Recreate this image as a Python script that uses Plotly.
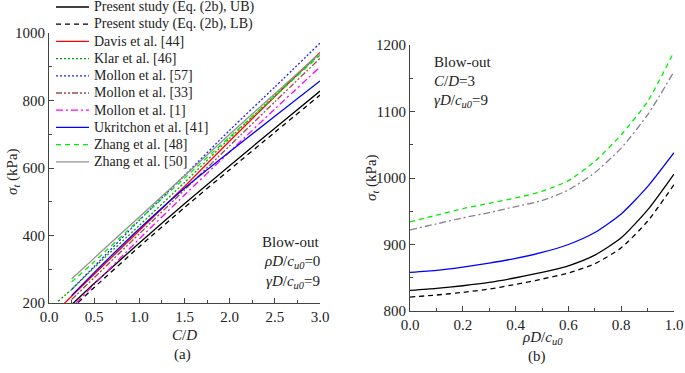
import plotly.graph_objects as go

# ---------------- Panel (a): sigma_t vs C/D ----------------
cd = [0.25, 0.5, 1.0, 1.5, 2.0, 2.5, 3.0]
ub_a = [195, 258, 378, 494, 607, 718, 828]
lb_a = [183, 246, 367, 483, 595, 706, 816]
cd_davis = [0.1, 0.25, 0.5, 1.0, 1.5, 2.0, 2.5, 3.0]
davis = [180, 220, 285, 415, 545, 680, 812, 942]
cd_klar = [0.1, 0.25, 0.5, 1.0, 1.5, 2.0, 2.5, 3.0]
klar = [205, 240, 305, 430, 557, 688, 815, 938]
mollon57 = [240, 308, 445, 578, 712, 840, 970]
mollon33 = [210, 275, 405, 535, 666, 796, 925]
cd_mollon1 = [0.3, 0.5, 1.0, 1.5, 2.0, 2.5, 3.0]
mollon1 = [200, 255, 390, 520, 648, 775, 899]
ukritchon_a = [222, 290, 420, 540, 648, 753, 858]
zhang48_a = [262, 322, 447, 570, 692, 813, 934]
zhang50 = [271, 333, 455, 577, 700, 820, 940]

# ---------------- Panel (b): sigma_t vs rhoD/cu0 ----------------
rho = [0.0, 0.1, 0.2, 0.3, 0.4, 0.5, 0.6, 0.7, 0.8, 0.9, 1.0]
zhang48_b = [934, 944, 954, 962, 970, 980, 996, 1025, 1065, 1115, 1190]
mollon33_b = [922, 931, 940, 948, 957, 966, 982, 1008, 1045, 1095, 1160]
ukritchon_b = [858, 861, 866, 872, 879, 888, 900, 918, 946, 987, 1038]
ub_b = [831, 834, 838, 843, 850, 858, 868, 884, 910, 952, 1006]
lb_b = [821, 824, 828, 833, 840, 848, 857, 871, 895, 935, 990]

FONT = "'Liberation Serif', 'Times New Roman', Times, serif"
TXT = "#222222"
W, H = 685, 373
def fx(px): return px / W
def fy(py): return 1 - py / H

fig = go.Figure()
legend_items = []

def add(x, y, name, color, dash, axis, show=True, width=1.3):
    fig.add_trace(go.Scatter(
        x=x, y=y, name=name, mode="lines", showlegend=False,
        line=dict(color=color, dash=dash, width=width, shape="spline", smoothing=0.6),
        xaxis="x" if axis == 1 else "x2", yaxis="y" if axis == 1 else "y2",
        cliponaxis=True))
    if show:
        legend_items.append((name, color, dash, width))

add(cd, ub_a, "Present study (Eq. (2b), UB)", "#000000", "solid", 1)
add(cd, lb_a, "Present study (Eq. (2b), LB)", "#000000", "5px,4px", 1)
add(cd_davis, davis, "Davis et al. [44]", "#ff0000", "solid", 1)
add(cd_klar, klar, "Klar et al. [46]", "#00a000", "2px,2px", 1)
add(cd, mollon57, "Mollon et al. [57]", "#2020ff", "2px,2px", 1)
add(cd, mollon33, "Mollon et al. [33]", "#a04848", "6px,2px,2px,2px,2px,2px", 1)
add(cd_mollon1, mollon1, "Mollon et al. [1]", "#ff00ff", "7px,3px,2px,3px", 1)
add(cd, ukritchon_a, "Ukritchon et al. [41]", "#0000ff", "solid", 1)
add(cd, zhang48_a, "Zhang et al. [48]", "#00ee00", "5px,4px", 1)
add(cd, zhang50, "Zhang et al. [50]", "#909090", "solid", 1)

add(rho, zhang48_b, "Zhang et al. [48]", "#00ee00", "5px,4px", 2, show=False)
add(rho, mollon33_b, "Mollon et al. [33]", "#8a8090", "7px,3px,2px,3px", 2, show=False)
add(rho, ukritchon_b, "Ukritchon et al. [41]", "#0000ff", "solid", 2, show=False)
add(rho, ub_b, "UB", "#000000", "solid", 2, show=False)
add(rho, lb_b, "LB", "#000000", "5px,4px", 2, show=False)

axis_common = dict(
    showline=True, linecolor="#444444", linewidth=1, ticks="inside", ticklen=5,
    tickcolor="#444444", showgrid=False, zeroline=False, mirror=False, automargin=False,
    tickfont=dict(family=FONT, size=15, color=TXT),
)

fig.update_layout(
    width=W, height=H, margin=dict(l=0, r=0, t=0, b=0, autoexpand=False),
    paper_bgcolor="white", plot_bgcolor="white",
    font=dict(family=FONT, size=15, color=TXT),
    showlegend=False,
    xaxis=dict(domain=[fx(49), fx(320)], range=[0, 3], tickvals=[0, 0.5, 1, 1.5, 2, 2.5, 3],
               ticktext=["0.0", "0.5", "1.0", "1.5", "2.0", "2.5", "3.0"], anchor="y",
               minor=dict(ticks="inside", ticklen=3, dtick=0.25, tickcolor="#444444"), **axis_common),
    yaxis=dict(domain=[fy(303), fy(33)], range=[200, 1000], dtick=200, anchor="x",
               minor=dict(ticks="inside", ticklen=3, dtick=100, tickcolor="#444444"), **axis_common),
    xaxis2=dict(domain=[fx(410), fx(674)], range=[0, 1], tickvals=[0, 0.2, 0.4, 0.6, 0.8, 1.0],
                ticktext=["0.0", "0.2", "0.4", "0.6", "0.8", "1.0"], anchor="y2",
                minor=dict(ticks="inside", ticklen=3, dtick=0.1, tickcolor="#444444"), **axis_common),
    yaxis2=dict(domain=[fy(311), fy(45)], range=[800, 1200], dtick=100, anchor="x2",
                minor=dict(ticks="inside", ticklen=3, dtick=50, tickcolor="#444444"), **axis_common),
)

ann = [
    dict(x=fx(13), y=fy(172), text="<i>σ</i><sub><i>t</i></sub> (kPa)", textangle=-90),
    dict(x=fx(372), y=fy(178), text="<i>σ</i><sub><i>t</i></sub> (kPa)", textangle=-90),
    dict(x=fx(184), y=fy(335), text="<i>C</i>/<i>D</i>"),
    dict(x=fx(542), y=fy(338), text="<i>ρD</i>/<i>c</i><sub><i>u0</i></sub>"),
    dict(x=fx(183), y=fy(354), text="(a)"),
    dict(x=fx(537), y=fy(356), text="(b)"),
    dict(x=fx(322), y=fy(242), text="Blow-out", xanchor="right"),
    dict(x=fx(322), y=fy(262), text="<i>ρD</i>/<i>c</i><sub><i>u0</i></sub>=0", xanchor="right"),
    dict(x=fx(322), y=fy(282), text="<i>γD</i>/<i>c</i><sub><i>u0</i></sub>=9", xanchor="right"),
    dict(x=fx(432), y=fy(62), text="Blow-out", xanchor="left"),
    dict(x=fx(432), y=fy(81), text="<i>C</i>/<i>D</i>=3", xanchor="left"),
    dict(x=fx(432), y=fy(101), text="<i>γD</i>/<i>c</i><sub><i>u0</i></sub>=9", xanchor="left"),
]
for a in ann:
    a.setdefault("xanchor", "center")
    a.update(font=dict(family=FONT, size=15, color=TXT))

# Legend drawn as paper-anchored sample lines + text (row spacing matches the reference)
shapes = []
for i, (name, color, dash, width) in enumerate(legend_items):
    yc = fy(7 + 17.2 * i)
    shapes.append(dict(type="line", xref="paper", yref="paper", x0=fx(56), x1=fx(89),
                       y0=yc, y1=yc, line=dict(color=color, dash=dash, width=width)))
    ann.append(dict(x=fx(92), y=yc, text=name, xanchor="left",
                    font=dict(family=FONT, size=14, color=TXT)))

for a in ann:
    a.update(xref="paper", yref="paper", yanchor="middle", showarrow=False)
fig.update_layout(annotations=ann, shapes=shapes)

fig.write_html("out.html", config={"displayModeBar": False},
               post_script="document.body.style.margin='0px';")
